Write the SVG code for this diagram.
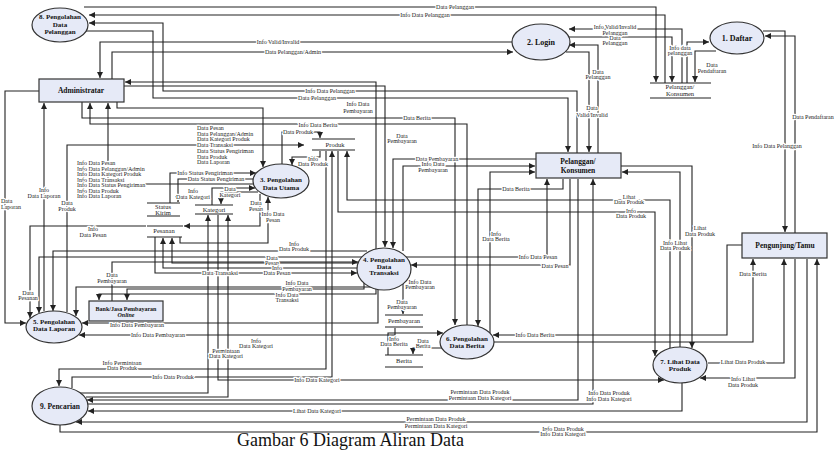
<svg xmlns="http://www.w3.org/2000/svg" width="836" height="450" viewBox="0 0 836 450">
<style>
.c{fill:none;stroke:#222;stroke-width:1.1}
.a{fill:none;stroke:#222;stroke-width:1.1;marker-end:url(#ar)}
.n{fill:#e6eaf7;stroke:#333;stroke-width:1.2}
.s{stroke:#222;stroke-width:1.1}
.t{font-family:"Liberation Serif",serif;font-size:6px;fill:#222;text-anchor:middle;paint-order:stroke;stroke:#fff;stroke-width:2.5px;stroke-linejoin:round}
.tl{font-family:"Liberation Serif",serif;font-size:6px;fill:#222;text-anchor:start;paint-order:stroke;stroke:#fff;stroke-width:2.5px;stroke-linejoin:round}
.nt{font-family:"Liberation Serif",serif;font-size:7px;font-weight:bold;fill:#111;text-anchor:middle}
.st{font-family:"Liberation Serif",serif;font-size:6.5px;fill:#222;text-anchor:middle}
</style>
<defs>
<marker id="ar" markerWidth="6" markerHeight="6" refX="6" refY="3" orient="auto" markerUnits="userSpaceOnUse"><path d="M0,0 L6,3 L0,6 z" fill="#222"/></marker>
</defs>
<rect width="836" height="450" fill="#fff"/>
<g id="connectors">
<path class="a" d="M84,7 H656 V82"/>
<path class="a" d="M665,83 V15 H89"/>
<path class="a" d="M577,153 V91 H163 V23 H89"/>
<path class="a" d="M85,31 H153 V98 H568 V152"/>
<path class="a" d="M512,42 H100 V78"/>
<path class="a" d="M112,79 V52 H513"/>
<path class="a" d="M682,83 V29 H569"/>
<path class="a" d="M569,37 H672 V82"/>
<path class="a" d="M687,83 V42 H709"/>
<path class="a" d="M716,51 H695 V82"/>
<path class="a" d="M763,31 H785 V232"/>
<path class="a" d="M795,233 V36 H765"/>
<path class="a" d="M598,153 V45 H569"/>
<path class="a" d="M566,52 H589 V152"/>
<path class="a" d="M376,249 V82 H125"/>
<path class="a" d="M124,86 H385 V247"/>
<path class="a" d="M536,159 H393 V248"/>
<path class="a" d="M403,251 V166 H535"/>
<path class="a" d="M82,102 V118 H455 V325"/>
<path class="a" d="M467,325 V124 H90 V103"/>
<path class="a" d="M117,102 V108 H263 V167"/>
<path class="a" d="M254,184 H108 V103"/>
<path class="a" d="M170,203 V173 H256"/>
<path class="a" d="M254,179 H178 V202"/>
<path class="a" d="M212,205 V188 H255"/>
<path class="a" d="M258,192 H221 V204"/>
<path class="a" d="M260,194 V226 H184"/>
<path class="a" d="M146,226 H30 V318"/>
<path class="a" d="M44,311 V103"/>
<path class="a" d="M67,312 V145 H304"/>
<path class="a" d="M282,164 V132 H320 V138"/>
<path class="a" d="M320,151 V157 H292 V165"/>
<path class="a" d="M621,166 H692 V348"/>
<path class="a" d="M680,347 V172 H622"/>
<path class="a" d="M670,348 V200 H347 V151"/>
<path class="a" d="M338,151 V212 H655 V356"/>
<path class="a" d="M708,363 H784 V259"/>
<path class="a" d="M795,259 V378 H700"/>
<path class="a" d="M807,259 V422 H76"/>
<path class="a" d="M60,425 V432 H817 V259"/>
<path class="a" d="M742,245 H727 V335 H493"/>
<path class="a" d="M494,342 H753 V259"/>
<path class="a" d="M578,179 V400 H87"/>
<path class="a" d="M88,404 H593 V179"/>
<path class="a" d="M682,383 V411 H88"/>
<path class="a" d="M86,397 H228 V215"/>
<path class="a" d="M80,393 H208 V215"/>
<path class="a" d="M218,215 V380 H664"/>
<path class="a" d="M326,151 V369 H59 V386"/>
<path class="a" d="M72,388 V377 H332 V151"/>
<path class="a" d="M112,301 V262 H358"/>
<path class="a" d="M364,282 V289 H127 V300"/>
<path class="a" d="M378,289 V323 H82"/>
<path class="a" d="M395,328 V335 H79"/>
<path class="a" d="M388,355 V333 H443"/>
<path class="a" d="M443,348 H413 V354"/>
<path class="a" d="M403,284 V314"/>
<path class="a" d="M155,237 V273 H357"/>
<path class="a" d="M358,268 H163 V238"/>
<path class="a" d="M359,263 H172 V238"/>
<path class="a" d="M180,237 V243 H268 V197"/>
<path class="a" d="M362,257 H39 V313"/>
<path class="a" d="M367,251 H53 V311"/>
<path class="a" d="M371,287 H76 V316"/>
<path class="a" d="M376,289 V294 H99 V300"/>
<path class="a" d="M39,91 H5 V323 H26"/>
<path class="a" d="M490,333 V172 H535"/>
<path class="a" d="M563,179 V189 H478 V326"/>
<path class="a" d="M406,257 H547 V179"/>
<path class="a" d="M570,179 V265 H411"/>
<text class="t" x="455" y="9">Data Pelanggan</text>
<text class="t" x="425" y="17">Info Data Pelanggan</text>
<text class="t" x="278" y="44">Info Valid/Invalid</text>
<text class="t" x="293" y="54">Data Pelanggan/Admin</text>
<text class="t" x="615" y="29">Info Valid/Invalid</text>
<text class="t" x="615" y="35">Pelanggan</text>
<text class="t" x="615" y="40">Data</text>
<text class="t" x="615" y="45">Pelanggan</text>
<text class="t" x="680" y="50">Info data</text>
<text class="t" x="680" y="55">pelanggan</text>
<text class="t" x="712" y="67">Data</text>
<text class="t" x="712" y="73">Pendaftaran</text>
<text class="t" x="598" y="74">Data</text>
<text class="t" x="598" y="79">Pelanggan</text>
<text class="t" x="592" y="110">Data</text>
<text class="t" x="592" y="117">Valid/Invalid</text>
<text class="t" x="813" y="119">Data Pendaftaran</text>
<text class="t" x="777" y="148">Info Data Pelanggan</text>
<text class="t" x="330" y="93">Info Data Pelanggan</text>
<text class="t" x="317" y="100">Data Pelanggan</text>
<text class="t" x="358" y="106">Info Data</text>
<text class="t" x="358" y="113">Pembayaran</text>
<text class="t" x="417" y="120">Data Berita</text>
<text class="t" x="318" y="127">Info Data Berita</text>
<text class="t" x="298" y="134">Data Produk</text>
<text class="t" x="402" y="138">Data</text>
<text class="t" x="402" y="143">Pembayaran</text>
<text class="tl" x="197" y="130">Data Pesan</text>
<text class="tl" x="197" y="135.7">Data Pelanggan/Admin</text>
<text class="tl" x="197" y="141.4">Data Kategori Produk</text>
<text class="tl" x="197" y="147">Data Transaksi</text>
<text class="tl" x="197" y="152.8">Data Status Pengiriman</text>
<text class="tl" x="197" y="158.5">Data Produk</text>
<text class="tl" x="197" y="164">Data Laporan</text>
<text class="tl" x="77" y="165">Info Data Pesan</text>
<text class="tl" x="77" y="170.5">Info Data Pelanggan/Admin</text>
<text class="tl" x="77" y="176">Info Data Kategori Produk</text>
<text class="tl" x="77" y="181.5">Info Data Transaksi</text>
<text class="tl" x="77" y="187">Info Data Status Pengiriman</text>
<text class="tl" x="77" y="192.5">Info Data Produk</text>
<text class="tl" x="77" y="198">Info Data Laporan</text>
<text class="t" x="44" y="192">Info</text>
<text class="t" x="44" y="198">Data Laporan</text>
<text class="tl" x="1" y="203">Data</text>
<text class="tl" x="1" y="209">Laporan</text>
<text class="t" x="67" y="205">Data</text>
<text class="t" x="67" y="211">Produk</text>
<text class="t" x="205" y="175">Info Status Pengiriman</text>
<text class="t" x="216" y="181">Data Status Pengiriman</text>
<text class="t" x="193" y="193">Info</text>
<text class="t" x="193" y="199">Data Kategori</text>
<text class="t" x="230" y="191">Data</text>
<text class="t" x="230" y="197">Kategori</text>
<text class="t" x="256" y="205">Data</text>
<text class="t" x="256" y="211">Pesan</text>
<text class="t" x="273" y="216">Info Data</text>
<text class="t" x="273" y="222">Pesan</text>
<text class="t" x="313" y="161">Info</text>
<text class="t" x="313" y="166">Data Produk</text>
<text class="t" x="93" y="231">Info</text>
<text class="t" x="93" y="237">Data Pesan</text>
<text class="t" x="294" y="246">Info</text>
<text class="t" x="294" y="251">Data Produk</text>
<text class="t" x="272" y="260">Data</text>
<text class="t" x="272" y="265">Pesan</text>
<text class="t" x="277" y="270">Info</text>
<text class="t" x="277" y="275">Data Pesan</text>
<text class="t" x="220" y="275">Data Transaksi</text>
<text class="t" x="297" y="285">Info Data</text>
<text class="t" x="297" y="291">Pembayaran</text>
<text class="t" x="287" y="297">Info Data</text>
<text class="t" x="287" y="302">Transaksi</text>
<text class="t" x="112" y="277">Data</text>
<text class="t" x="112" y="283">Pembayaran</text>
<text class="t" x="28" y="295">Data</text>
<text class="t" x="28" y="300">Pesanan</text>
<text class="t" x="137" y="327">Info Data Pembayaran</text>
<text class="t" x="158" y="337">Info Data Pembayaran</text>
<text class="t" x="420" y="284">Info Data</text>
<text class="t" x="420" y="289">Pembayaran</text>
<text class="t" x="402" y="304">Data</text>
<text class="t" x="402" y="309">Pembayaran</text>
<text class="t" x="394" y="341">Info</text>
<text class="t" x="394" y="346">Data Berita</text>
<text class="t" x="423" y="343">Data</text>
<text class="t" x="423" y="348">Berita</text>
<text class="t" x="535" y="337">Info Data Berita</text>
<text class="t" x="256" y="343">Info</text>
<text class="t" x="256" y="348">Data Kategori</text>
<text class="t" x="226" y="353">Permintaan</text>
<text class="t" x="226" y="358">Data Kategori</text>
<text class="t" x="122" y="365">Info Permintaan</text>
<text class="t" x="122" y="370">Data Produk</text>
<text class="t" x="173" y="379">Info Data Produk</text>
<text class="t" x="317" y="382">Info Data Kategori</text>
<text class="t" x="480" y="394">Permintaan Data Produk</text>
<text class="t" x="480" y="400">Permintaan Data Kategori</text>
<text class="t" x="317" y="413">Lihat Data Kategori</text>
<text class="t" x="436" y="421">Permintaan Data Produk</text>
<text class="t" x="436" y="428">Permintaan Data Kategori</text>
<text class="t" x="563" y="431">Info Data Produk</text>
<text class="t" x="563" y="436">Info Data Kategori</text>
<text class="t" x="609" y="395">Info Data Produk</text>
<text class="t" x="609" y="401">Info Data Kategori</text>
<text class="t" x="743" y="364">Lihat Data Produk</text>
<text class="t" x="743" y="381">Info Lihat</text>
<text class="t" x="743" y="387">Data Produk</text>
<text class="t" x="753" y="276">Data Berita</text>
<text class="t" x="629" y="199">Lihat</text>
<text class="t" x="629" y="204">Data Produk</text>
<text class="t" x="631" y="213">Info</text>
<text class="t" x="631" y="218">Data Produk</text>
<text class="t" x="700" y="230">Lihat</text>
<text class="t" x="700" y="236">Data Produk</text>
<text class="t" x="675" y="245">Info Lihat</text>
<text class="t" x="675" y="250">Data Produk</text>
<text class="t" x="538" y="259">Info Data Pesan</text>
<text class="t" x="555" y="268">Data Pesan</text>
<text class="t" x="496" y="236">Info</text>
<text class="t" x="496" y="241">Data Berita</text>
<text class="t" x="516" y="191">Data Berita</text>
<text class="t" x="437" y="161">Data Pembayaran</text>
<text class="t" x="433" y="166">Info Data</text>
<text class="t" x="433" y="172">Pembayaran</text>
</g>
<g id="store-pelanggan"><line class="s" x1="650" y1="83" x2="711" y2="83"/><line class="s" x1="650" y1="98" x2="711" y2="98"/><text class="st" x="680" y="89">Pelanggan/</text><text class="st" x="680" y="96">Konsumen</text></g>
<g id="store-produk"><line class="s" x1="312" y1="139" x2="355" y2="139"/><line class="s" x1="312" y1="150" x2="355" y2="150"/><text class="st" x="335" y="147">Produk</text></g>
<g id="store-statuskirim"><line class="s" x1="147" y1="203" x2="180" y2="203"/><line class="s" x1="147" y1="216" x2="180" y2="216"/><text class="st" x="163" y="209">Status</text><text class="st" x="163" y="215">Kirim</text></g>
<g id="store-kategori"><line class="s" x1="195" y1="205" x2="233" y2="205"/><line class="s" x1="195" y1="214" x2="233" y2="214"/><text class="st" x="214" y="212">Kategori</text></g>
<g id="store-pesanan"><line class="s" x1="147" y1="226" x2="183" y2="226"/><line class="s" x1="147" y1="237" x2="182" y2="237"/><text class="st" x="164" y="233">Pesanan</text></g>
<g id="store-pembayaran"><line class="s" x1="385" y1="315" x2="423" y2="315"/><line class="s" x1="385" y1="327" x2="423" y2="327"/><text class="st" x="404" y="323">Pembayaran</text></g>
<g id="store-berita"><line class="s" x1="385" y1="355" x2="423" y2="355"/><line class="s" x1="385" y1="367" x2="423" y2="367"/><text class="st" x="404" y="363">Berita</text></g>
<g id="p8"><ellipse class="n" cx="60" cy="25" rx="28" ry="17"/><text class="nt" x="60" y="19">8. Pengolahan</text><text class="nt" x="60" y="26.5">Data</text><text class="nt" x="60" y="34">Pelanggan</text></g>
<g id="p2"><ellipse class="n" cx="541" cy="42" rx="29" ry="18"/><text class="nt" x="541" y="45" style="font-size:8px">2. Login</text></g>
<g id="p1"><ellipse class="n" cx="737" cy="38" rx="27" ry="16"/><text class="nt" x="737" y="41" style="font-size:8px">1. Daftar</text></g>
<g id="admin"><rect class="n" x="39" y="79" width="85" height="23"/><text class="nt" x="81" y="93" style="font-size:7.5px">Administratar</text></g>
<g id="p3"><ellipse class="n" cx="281" cy="181" rx="28" ry="17"/><text class="nt" x="281" y="182">3. Pengolahan</text><text class="nt" x="281" y="189.5">Data Utama</text></g>
<g id="pelanggan"><rect class="n" x="536" y="153" width="85" height="25"/><text class="nt" x="578" y="164" style="font-size:7.5px">Pelanggan/</text><text class="nt" x="578" y="172.5" style="font-size:7.5px">Konsumen</text></g>
<g id="tamu"><rect class="n" x="742" y="233" width="85" height="25"/><text class="nt" x="785" y="248" style="font-size:7.5px">Pengunjung/Tamu</text></g>
<g id="p4"><ellipse class="n" cx="384" cy="269" rx="27" ry="21"/><text class="nt" x="384" y="262">4. Pengolahan</text><text class="nt" x="384" y="268.5">Data</text><text class="nt" x="384" y="275">Transaksi</text></g>
<g id="p5"><ellipse class="n" cx="54" cy="327" rx="28" ry="16"/><text class="nt" x="54" y="323.5">5. Pengolahan</text><text class="nt" x="54" y="331">Data Laporan</text></g>
<g id="p6"><ellipse class="n" cx="467" cy="342" rx="27" ry="17"/><text class="nt" x="467" y="340.5">6. Pengolahan</text><text class="nt" x="467" y="348">Data Berita</text></g>
<g id="p7"><ellipse class="n" cx="680" cy="365" rx="27" ry="18"/><text class="nt" x="680" y="363.5">7. Lihat Data</text><text class="nt" x="680" y="371">Produk</text></g>
<g id="p9"><ellipse class="n" cx="60" cy="406" rx="28" ry="19"/><text class="nt" x="60" y="408.5" style="font-size:7.5px">9. Pencarian</text></g>
<g id="bank"><rect class="n" x="89" y="301" width="74" height="20"/><text class="nt" x="126" y="310.5" style="font-size:6px">Bank/Jasa Pembayaran</text><text class="nt" x="126" y="317" style="font-size:6px;font-style:italic">Online</text></g>
<text x="237" y="446" style="font-family:'Liberation Serif',serif;font-size:18px;fill:#111">Gambar 6 Diagram Aliran Data</text>
</svg>
